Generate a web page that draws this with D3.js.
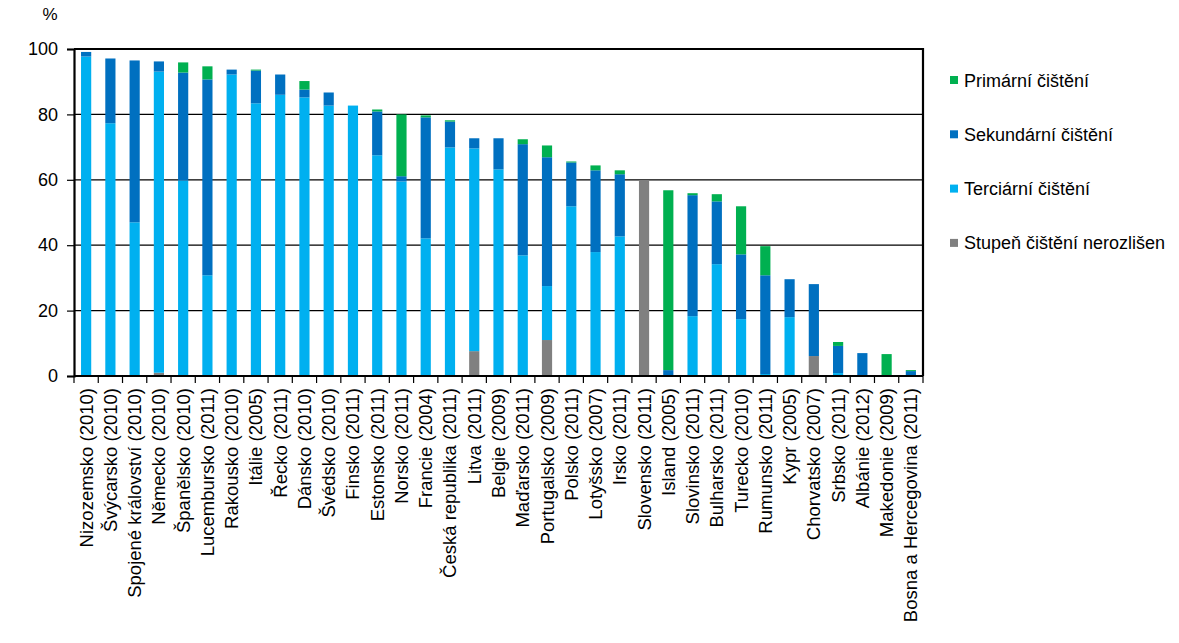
<!DOCTYPE html>
<html>
<head>
<meta charset="utf-8">
<script src="https://cdn.jsdelivr.net/npm/d3@7"></script>
<style>
  html, body { margin: 0; padding: 0; background: #fff; }
  svg { display: block; font-family: 'Liberation Sans', Arial, sans-serif; }
</style>
</head>
<body>
<div id="chart"></div>
<script>
// kategorie (stát, rok)
const countries = [
  'Nizozemsko (2010)', 'Švýcarsko (2010)', 'Spojené království (2010)', 'Německo (2010)',
  'Španělsko (2010)', 'Lucembursko (2011)', 'Rakousko (2010)', 'Itálie (2005)',
  'Řecko (2011)', 'Dánsko (2010)', 'Švédsko (2010)', 'Finsko (2011)',
  'Estonsko (2011)', 'Norsko (2011)', 'Francie (2004)', 'Česká republika (2011)',
  'Litva (2011)', 'Belgie (2009)', 'Maďarsko (2011)', 'Portugalsko (2009)',
  'Polsko (2011)', 'Lotyšsko (2007)', 'Irsko (2011)', 'Slovensko (2011)',
  'Island (2005)', 'Slovinsko (2011)', 'Bulharsko (2011)', 'Turecko (2010)',
  'Rumunsko (2011)', 'Kypr (2005)', 'Chorvatsko (2007)', 'Srbsko (2011)',
  'Albánie (2012)', 'Makedonie (2009)', 'Bosna a Hercegovina (2011)'
];

// hodnoty v %
const unresolved = [0, 0, 0, 1.0, 0, 0, 0, 0, 0, 0, 0, 0, 0, 0, 0, 0,
  7.6, 0, 0, 11.0, 0, 0, 0, 59.8, 0, 0, 0, 0, 0, 0, 6.1, 0, 0, 0, 0];
const tertiary = [97.7, 77.3, 47.0, 92.1, 59.8, 30.8, 92.2, 83.4, 86.0, 85.2, 82.7, 82.7,
  67.5, 59.5, 42.1, 69.9, 62.0, 63.2, 36.9, 16.5, 51.9, 37.9, 42.7, 0,
  0, 18.3, 34.2, 17.4, 0.6, 18.0, 0, 0.9, 0, 0, 0.3];
const secondary = [1.4, 19.8, 49.5, 3.1, 33.0, 59.9, 1.5, 10.0, 6.2, 2.4, 4.0, 0,
  13.4, 1.6, 37.0, 7.9, 3.1, 9.5, 34.0, 39.4, 13.4, 25.0, 19.0, 0,
  1.8, 37.0, 19.2, 19.8, 30.2, 11.6, 22.0, 8.3, 7.0, 0, 1.2];
const primary = [0, 0, 0, 0, 3.1, 4.0, 0, 0.3, 0, 2.6, 0, 0,
  0.6, 18.9, 0.6, 0.4, 0, 0, 1.5, 3.6, 0.3, 1.5, 1.2, 0,
  55.0, 0.6, 2.2, 14.7, 8.9, 0, 0, 1.2, 0, 6.7, 0.3];

const yTicks = [0, 20, 40, 60, 80, 100];

const seriesKeys   = ['unresolved', 'tertiary', 'secondary', 'primary'];
const seriesColors = { primary: '#00B050', secondary: '#0070C0', tertiary: '#00B0F0', unresolved: '#808080' };
const legendItems  = [
  { key: 'primary',    label: 'Primární čištění' },
  { key: 'secondary',  label: 'Sekundární čištění' },
  { key: 'tertiary',   label: 'Terciární čištění' },
  { key: 'unresolved', label: 'Stupeň čištění nerozlišen' }
];

const W = 1179, H = 643;
const pL = 74, pR = 923, pT = 49, pB = 376;
const FONT = "'Liberation Sans', Arial, sans-serif";

const rows = countries.map((c, i) => ({
  country: c,
  unresolved: unresolved[i],
  tertiary: tertiary[i],
  secondary: secondary[i],
  primary: primary[i]
}));

const svg = d3.select('#chart').append('svg')
  .attr('width', W)
  .attr('height', H);

const x = d3.scaleBand().domain(countries).range([pL, pR]).paddingInner(0.58).paddingOuter(0.29);
const y = d3.scaleLinear().domain([0, 100]).range([pB, pT]);

// Gridlines
svg.append('g')
  .selectAll('line')
  .data(yTicks.filter(t => t > 0 && t < 100))
  .enter().append('line')
  .attr('x1', pL).attr('x2', pR)
  .attr('y1', d => y(d)).attr('y2', d => y(d))
  .attr('stroke', '#000').attr('stroke-width', 1.2);

// Bars
const stacked = d3.stack().keys(seriesKeys)(rows);
svg.append('g')
  .selectAll('g')
  .data(stacked)
  .enter().append('g')
  .attr('fill', s => seriesColors[s.key])
  .selectAll('rect')
  .data(s => s)
  .enter().append('rect')
  .attr('x', d => x(d.data.country))
  .attr('width', x.bandwidth())
  .attr('y', d => y(d[1]))
  .attr('height', d => Math.max(0, y(d[0]) - y(d[1])));

// Plot frame (top + right)
svg.append('path')
  .attr('d', `M${pL},${y(100)}H${pR}V${pB}`)
  .attr('fill', 'none')
  .attr('stroke', '#000')
  .attr('stroke-width', 2.2);

// Y axis
svg.append('g')
  .attr('transform', `translate(${pL},0)`)
  .call(d3.axisLeft(y).tickValues(yTicks).tickSize(7).tickPadding(9))
  .call(g => g.select('.domain').attr('stroke-width', 2.2))
  .call(g => g.selectAll('.tick line').attr('stroke-width', 1.2))
  .call(g => g.selectAll('.tick text')
    .attr('font-size', '18px').attr('fill', '#000')
    .attr('font-family', FONT));

// X axis
const step = x.step();
const xAxis = svg.append('g').attr('transform', `translate(0,${pB})`);
xAxis.append('line')
  .attr('x1', pL).attr('x2', pR)
  .attr('stroke', '#000').attr('stroke-width', 2.2);
xAxis.selectAll('.xtick')
  .data(d3.range(countries.length + 1))
  .enter().append('line')
  .attr('x1', i => pL + i * step).attr('x2', i => pL + i * step)
  .attr('y1', 0).attr('y2', 7)
  .attr('stroke', '#000').attr('stroke-width', 1.2);
xAxis.selectAll('.xlabel')
  .data(countries)
  .enter().append('text')
  .attr('transform', d => `translate(${x(d) + x.bandwidth() / 2 + 6.5},12) rotate(-90)`)
  .attr('text-anchor', 'end')
  .attr('font-size', '18.5px')
  .attr('fill', '#000')
  .text(d => d);

// Unit label
svg.append('text')
  .attr('x', 50).attr('y', 20)
  .attr('text-anchor', 'middle')
  .attr('font-size', '17px')
  .text('%');

// Legend
const leg = svg.append('g').attr('transform', 'translate(950,80)');
legendItems.forEach((d, i) => {
  const row = leg.append('g').attr('transform', `translate(0,${i * 54.3})`);
  row.append('rect')
    .attr('x', 0).attr('y', -4).attr('width', 8).attr('height', 8)
    .attr('fill', seriesColors[d.key]);
  row.append('text')
    .attr('x', 14).attr('y', 6.5)
    .attr('font-size', '18px')
    .attr('fill', '#000')
    .text(d.label);
});
</script>
</body>
</html>
